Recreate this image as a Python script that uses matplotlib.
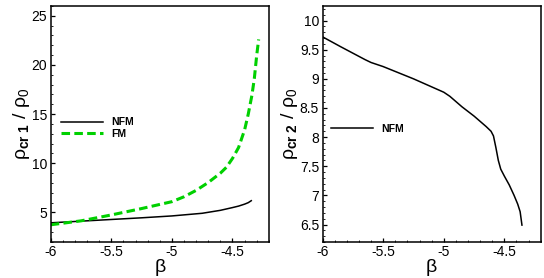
import matplotlib
matplotlib.use('Agg')
import matplotlib.pyplot as plt
from matplotlib.ticker import MultipleLocator, FormatStrFormatter

#data
beta_nfm1 = [-6.0, -5.75, -5.5, -5.25, -5.0, -4.75, -4.6, -4.5, -4.45, -4.4, -4.37, -4.345]
rho_nfm1 = [3.95, 4.12, 4.29, 4.46, 4.65, 4.92, 5.22, 5.5, 5.65, 5.85, 6.0, 6.2]

beta_fm1 = [-6.0, -5.75, -5.5, -5.25, -5.0, -4.9, -4.8, -4.7, -4.6, -4.55, -4.5,
            -4.45, -4.4, -4.37, -4.34, -4.32, -4.30, -4.284]
rho_fm1 = [3.75, 4.15, 4.75, 5.4, 6.1, 6.6, 7.25, 8.05, 9.0, 9.6, 10.5,
           11.6, 13.4, 15.0, 16.9, 18.6, 21.0, 22.6]

beta_nfm2 = [-6.0, -5.85, -5.75, -5.65, -5.6, -5.5, -5.25, -5.0, -4.95, -4.85,
             -4.75, -4.65, -4.61, -4.59, -4.57, -4.55, -4.53, -4.5, -4.46, -4.42,
             -4.39, -4.37, -4.355]
rho_nfm2 = [9.72, 9.55, 9.44, 9.33, 9.28, 9.21, 9.0, 8.77, 8.70, 8.52,
            8.36, 8.18, 8.10, 8.02, 7.82, 7.6, 7.45, 7.33, 7.18, 7.0,
            6.85, 6.72, 6.49]

GREEN = '#00d000'

plt.rcParams['font.family'] = ['Liberation Sans', 'DejaVu Sans']
plt.rcParams['mathtext.fontset'] = 'custom'
plt.rcParams['mathtext.rm'] = 'Liberation Sans'
plt.rcParams['mathtext.it'] = 'Liberation Sans'
plt.rcParams['mathtext.bf'] = 'Liberation Sans:bold'


def set_axes(ax, ylim, ymajor, yminor):
    ax.set_xlim(-6, -4.2)
    ax.set_ylim(*ylim)
    ax.xaxis.set_major_locator(MultipleLocator(0.5))
    ax.xaxis.set_minor_locator(MultipleLocator(0.1))
    ax.yaxis.set_major_locator(MultipleLocator(ymajor))
    ax.yaxis.set_minor_locator(MultipleLocator(yminor))
    ax.xaxis.set_major_formatter(FormatStrFormatter('%g'))
    ax.yaxis.set_major_formatter(FormatStrFormatter('%g'))
    ax.tick_params(which='both', direction='in', top=False, right=False,
                   labelsize=10, pad=2.5)
    ax.tick_params(which='major', length=3, width=0.9)
    ax.tick_params(which='minor', length=1.5, width=0.6)
    for sp in ax.spines.values():
        sp.set_linewidth(1.1)
    ax.set_xlabel(r'$\beta$', fontsize=14, labelpad=-2)


fig = plt.figure(figsize=(5.44, 2.78), dpi=100)
ax1 = fig.add_axes([0.0932, 0.1295, 0.401, 0.849])
ax2 = fig.add_axes([0.593, 0.1295, 0.401, 0.849])

#left graph
ax1.plot(beta_nfm1, rho_nfm1, color='black', lw=1.1, label='NFM')
ax1.plot(beta_fm1, rho_fm1, color=GREEN, lw=2.2, dashes=(2.8, 1.4), label='FM')
set_axes(ax1, (2, 26), 5, 1)
ax1.set_ylabel(r'$\rho_{\mathbf{cr\ 1}}\ /\ \rho_0$', fontsize=14, labelpad=0)
ax1.legend(loc='center left', bbox_to_anchor=(0.045, 0.482), frameon=False,
           prop={'weight': 'bold', 'size': 7.5}, handlelength=4.1,
           handletextpad=0.8, labelspacing=0.15, borderpad=0, borderaxespad=0)

#right graph
ax2.plot(beta_nfm2, rho_nfm2, color='black', lw=1.1, label='NFM')
set_axes(ax2, (6.2, 10.25), 0.5, 0.1)
ax2.set_ylabel(r'$\rho_{\mathbf{cr\ 2}}\ /\ \rho_0$', fontsize=14, labelpad=0)
ax2.legend(loc='center left', bbox_to_anchor=(0.037, 0.479), frameon=False,
           prop={'weight': 'bold', 'size': 7.5}, handlelength=4.1,
           handletextpad=0.8, borderpad=0, borderaxespad=0)

plt.savefig('out.png', dpi=100)
